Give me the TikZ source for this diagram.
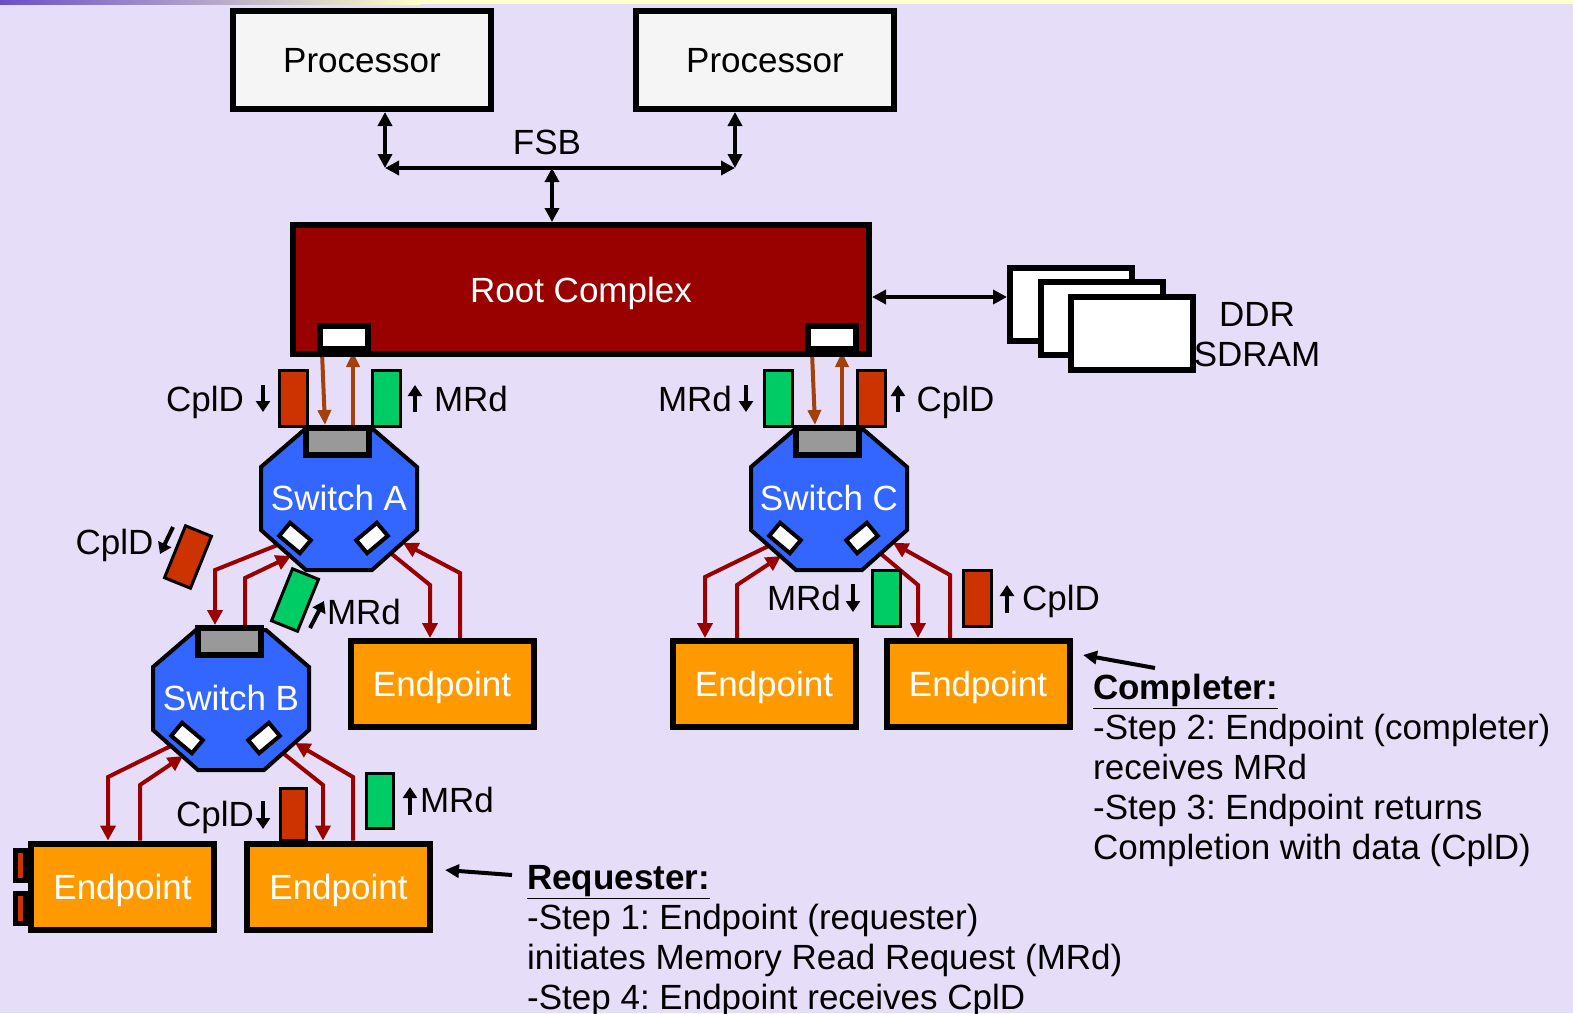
\documentclass[tikz,border=0pt]{standalone}
\usepackage{fontspec}
\setmainfont{Liberation Sans}
\usetikzlibrary{arrows.meta,calc}
\frenchspacing

\definecolor{bgcol}{HTML}{E6DEF8}
\definecolor{stripL}{HTML}{6A4FC8}
\definecolor{stripR}{HTML}{FFFFC8}
\definecolor{procfill}{HTML}{F5F5F5}
\definecolor{rootred}{HTML}{990000}
\definecolor{pktred}{HTML}{CC3300}
\definecolor{pktgreen}{HTML}{00CC66}
\definecolor{swblue}{HTML}{3366FF}
\definecolor{epfill}{HTML}{FF9900}
\definecolor{portgray}{HTML}{999999}
\definecolor{linkred}{HTML}{990000}
\definecolor{rootlink}{HTML}{A3400C}

\newcommand\bigtxt{\fontsize{35}{40}\selectfont}

\pgfdeclarelayer{back}
\pgfdeclarelayer{wires}
\pgfsetlayers{back,wires,main}

% an octagonal PCIe switch: name, x, y, label
\newcommand\pcieswitch[4]{%
  \begin{scope}[shift={(#2,#3)}]
    \draw[swbody] (-35,-68) -- (35,-68) -- (78,-31) -- (78,32) -- (33,72)
      -- (-33,72) -- (-78,32) -- (-78,-31) -- cycle;
    \node[upport] (#1-up) at (-1.5,-56.5) {};
    \node[dnport, rotate=-40] (#1-dl) at (-44,40) {};
    \node[dnport, rotate=40] (#1-dr) at (33,40) {};
    \coordinate (#1-inL) at (-48,58);
    \coordinate (#1-inR) at (64,45);
    \node[swtext] (#1) at (0,0) {#4};
  \end{scope}}

\begin{document}
\begin{tikzpicture}[x=1pt,y=-1pt,
  box/.style={draw=black, line width=6pt, inner sep=0pt, font=\bigtxt,
    text height=25pt, text depth=0pt},
  proc/.style={box, fill=procfill, minimum width=258pt, minimum height=98pt},
  rootbox/.style={box, fill=rootred, text=white, minimum width=576pt, minimum height=129pt},
  endpt/.style={box, fill=epfill, text=white, minimum width=183pt, minimum height=86pt},
  ddr/.style={box, fill=white, minimum width=122pt, minimum height=73pt},
  rcport/.style={draw=black, line width=6pt, fill=white, inner sep=0pt,
    minimum width=48pt, minimum height=23pt},
  swbody/.style={draw=black, line width=4pt, fill=swblue, line join=miter},
  upport/.style={draw=black, line width=6pt, fill=portgray, inner sep=0pt,
    minimum width=63pt, minimum height=27pt},
  dnport/.style={draw=black, line width=4pt, fill=white, inner sep=0pt,
    minimum width=27pt, minimum height=17pt},
  swtext/.style={text=white, font=\bigtxt, inner sep=0pt, text height=25pt, text depth=0pt},
  pkt/.style={draw=black, line width=3pt, inner sep=0pt,
    minimum width=28pt, minimum height=56pt},
  mrdpkt/.style={pkt, fill=pktgreen},
  cpldpkt/.style={pkt, fill=pktred},
  tab/.style={draw=black, line width=5pt, fill=pktred, inner sep=0pt,
    minimum width=10pt, minimum height=30pt},
  lbl/.style={font=\bigtxt, inner sep=0pt},
  bus/.style={draw=black, line width=4pt,
    {Triangle[length=14pt,width=14pt]}-{Triangle[length=14pt,width=14pt]}},
  rlink/.style={draw=rootlink, line width=4pt, -{Triangle[length=15pt,width=13pt]}},
  link/.style={draw=linkred, line width=4pt, line join=miter,
    -{Triangle[length=15pt,width=15pt]}},
  sarrow/.style={draw=black, line width=4pt, -{Triangle[length=11pt,width=14pt]}},
  pointer/.style={draw=black, line width=4pt, -{Triangle[length=14pt,width=13pt]}}
]
\useasboundingbox (0,0) rectangle (1573,1013);

\begin{pgfonlayer}{back}
  \fill[bgcol] (0,0) rectangle (1573,1013);
  \shade[left color=stripL, right color=stripR] (0,0) rectangle (420,4);
  \fill[stripR] (420,0) rectangle (1573,4);
\end{pgfonlayer}

% processors, front-side bus and root complex
\node[proc] (cpu1) at (362,60) {Processor};
\node[proc] (cpu2) at (765,60) {Processor};
\node[rootbox] (rc) at (581,289.5) {Root Complex};
\node[rcport] (rcL) at (344,337.5) {};
\node[rcport] (rcR) at (832,337.5) {};

\coordinate (fsbL) at (385,168);
\coordinate (fsbR) at (735,168);
\coordinate (fsbM) at (552,168);
\draw[bus] (fsbL |- cpu1.south) -- (fsbL);
\draw[bus] (fsbR |- cpu2.south) -- (fsbR);
\draw[bus] (fsbL) -- (fsbR);
\draw[bus] (fsbM) -- (fsbM |- rc.north);
\node[lbl, anchor=base] (fsb) at (547,154.5) {FSB};

% memory
\node[ddr] (ddr1) at (1071,304.5) {};
\node[ddr] (ddr2) at (1101.5,318.5) {};
\node[ddr] (ddr3) at (1132,333) {};
\coordinate (ddrbus) at (0,297);
\draw[bus] (rc.east |- ddrbus) -- (ddr1.west |- ddrbus);
\node[lbl, align=center] (ddrtxt) at (1257,335) {DDR\\SDRAM};

% switches
\pcieswitch{swA}{339}{498}{Switch A}
\pcieswitch{swB}{231}{698}{Switch B}
\pcieswitch{swC}{829}{498}{Switch C}

% endpoints
\node[tab] (tab1) at (20.5,865.5) {};
\node[tab] (tab2) at (20.5,908.5) {};
\node[endpt] (epL) at (122.5,886.5) {Endpoint};
\node[endpt] (epR) at (338.5,886.5) {Endpoint};
\node[endpt] (epA) at (442,684) {Endpoint};
\node[endpt] (epC1) at (764,684) {Endpoint};
\node[endpt] (epC2) at (978,684) {Endpoint};

% links
\begin{pgfonlayer}{wires}
  \draw[rlink] (322,0 |- rcL.south) -- (325,0 |- swA-up.north);
  \draw[rlink] (353,0 |- swA-up.north) -- (353,0 |- rcL.south);
  \draw[rlink] (812,0 |- rcR.south) -- (815,0 |- swC-up.north);
  \draw[rlink] (842,0 |- swC-up.north) -- (842,0 |- rcR.south);

  \draw[link] (swA-dl.center) -- (215,570) -- (215,0 |- swB-up.north);
  \draw[link] (245,0 |- swB-up.north) -- (245,578) -- (swA-inL);
  \draw[link] (swA-dr.center) -- (430,585) -- (430,0 |- epA.north);
  \draw[link] (460,0 |- epA.north) -- (460,573) -- (swA-inR);

  \draw[link] (swB-dl.center) -- (108,777) -- (108,0 |- epL.north);
  \draw[link] (140,0 |- epL.north) -- (140,785) -- (swB-inL);
  \draw[link] (swB-dr.center) -- (323,785) -- (323,0 |- epR.north);
  \draw[link] (353,0 |- epR.north) -- (353,777) -- (swB-inR);

  \draw[link] (swC-dl.center) -- (705,577) -- (705,0 |- epC1.north);
  \draw[link] (737,0 |- epC1.north) -- (737,585) -- (swC-inL);
  \draw[link] (swC-dr.center) -- (918,585) -- (918,0 |- epC2.north);
  \draw[link] (950,0 |- epC2.north) -- (950,575) -- (swC-inR);
\end{pgfonlayer}

% packets in flight
\node[cpldpkt] (pk1) at (293.5,398.5) {};
\node[mrdpkt] (pk2) at (386.5,398.5) {};
\node[mrdpkt] (pk3) at (778,398.5) {};
\node[cpldpkt] (pk4) at (871,398.5) {};
\node[cpldpkt, rotate=-22] (pk5) at (188,557) {};
\node[mrdpkt, rotate=-22] (pk6) at (295,600) {};
\node[mrdpkt] (pk7) at (886.5,598.5) {};
\node[cpldpkt] (pk8) at (977.5,598.5) {};
\node[cpldpkt, minimum width=26pt, minimum height=52pt] (pk9) at (293.5,814.5) {};
\node[mrdpkt, minimum width=27pt, minimum height=55pt] (pk10) at (380,801) {};

% packet labels with direction marks
\node[lbl, anchor=base] (l1) at (205,411.5) {CplD};
\draw[sarrow] (263,385) -- (263,412);
\node[lbl, anchor=base] (l2) at (471,411.5) {MRd};
\draw[sarrow] (415,412) -- (415,385);
\node[lbl, anchor=base] (l3) at (695,411.5) {MRd};
\draw[sarrow] (746,385) -- (746,412);
\node[lbl, anchor=base] (l4) at (955.5,411.5) {CplD};
\draw[sarrow] (898,412) -- (898,385);
\node[lbl, anchor=base] (l5) at (114.5,554.5) {CplD};
\draw[sarrow] (173,527) -- (160,554);
\node[lbl, anchor=base] (l6) at (364,624.5) {MRd};
\draw[sarrow] (310,628) -- (324,601);
\node[lbl, anchor=base] (l7) at (804,610.5) {MRd};
\draw[sarrow] (853,584) -- (853,612);
\node[lbl, anchor=base] (l8) at (1061,610.5) {CplD};
\draw[sarrow] (1007,613) -- (1007,585);
\node[lbl, anchor=base] (l9) at (215,826.5) {CplD};
\draw[sarrow] (263,801) -- (263,829);
\node[lbl, anchor=base] (l10) at (457,812.5) {MRd};
\draw[sarrow] (410,815) -- (410,787);

% roles
\coordinate (cpTail) at (1155,668);
\coordinate (cpTip) at (1083,655);
\draw[pointer] (cpTail) -- (cpTip);
\node[lbl, anchor=north west, align=left] (completer) at (1093,674)
  {\textbf{\underline{Completer:}}\\-Step 2: Endpoint (completer)\\receives MRd\\-Step 3: Endpoint returns\\Completion with data (CplD)};

\coordinate (rqTail) at (512,875);
\coordinate (rqTip) at (445,870);
\draw[pointer] (rqTail) -- (rqTip);
\node[lbl, anchor=north west, align=left] (requester) at (527,865)
  {\textbf{\underline{Requester:}}\\-Step 1: Endpoint (requester)\\initiates Memory Read Request (MRd)\\-Step 4: Endpoint receives CplD};
\end{tikzpicture}
\end{document}
